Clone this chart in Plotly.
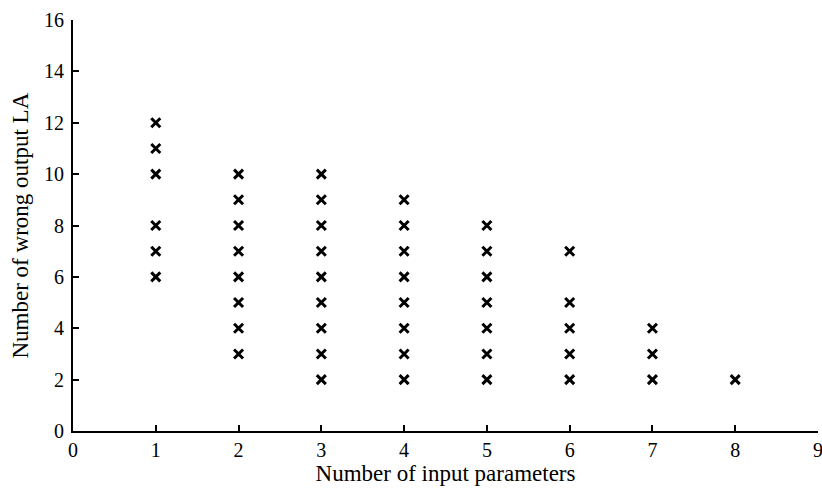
import plotly.graph_objects as go

# data
params_1 = [1, 1, 1, 1, 1, 1]
wrong_1 = [6, 7, 8, 10, 11, 12]
params_2 = [2] * 8
wrong_2 = [3, 4, 5, 6, 7, 8, 9, 10]
params_3 = [3] * 9
wrong_3 = [2, 3, 4, 5, 6, 7, 8, 9, 10]
params_4 = [4] * 8
wrong_4 = [2, 3, 4, 5, 6, 7, 8, 9]
params_5 = [5] * 7
wrong_5 = [2, 3, 4, 5, 6, 7, 8]
params_6 = [6] * 5
wrong_6 = [2, 3, 4, 5, 7]
params_7 = [7] * 3
wrong_7 = [2, 3, 4]
params_8 = [8]
wrong_8 = [2]

xs = params_1 + params_2 + params_3 + params_4 + params_5 + params_6 + params_7 + params_8
ys = wrong_1 + wrong_2 + wrong_3 + wrong_4 + wrong_5 + wrong_6 + wrong_7 + wrong_8

x_ticks = list(range(0, 10))
y_ticks = list(range(0, 17, 2))

font = "Liberation Serif, Times New Roman, serif"

fig = go.Figure()
fig.add_trace(go.Scatter(
    x=xs, y=ys, mode="markers",
    marker=dict(symbol="x-thin", size=9, color="black",
                line=dict(width=3, color="black")),
    showlegend=False,
))

fig.update_layout(
    width=822, height=492,
    margin=dict(l=73, r=4, t=20, b=61),
    paper_bgcolor="white", plot_bgcolor="white",
    font=dict(family=font, size=20, color="black"),
)
fig.update_xaxes(
    range=[0, 9], tickvals=x_ticks, ticktext=[str(v) for v in x_ticks],
    ticks="inside", ticklen=6, tickwidth=2, tickcolor="black",
    showline=True, linecolor="black", linewidth=2,
    showgrid=False, zeroline=False, ticklabeloverflow="allow", automargin=False,
    title=dict(text="Number of input parameters", standoff=2, font=dict(size=23)),
    tickfont=dict(size=20),
)
fig.update_yaxes(
    range=[0, 16], tickvals=y_ticks, ticktext=[str(v) for v in y_ticks],
    ticks="inside", ticklen=6, tickwidth=2, tickcolor="black",
    showline=True, linecolor="black", linewidth=2,
    showgrid=False, zeroline=False, automargin=False, ticklabelstandoff=3,
    tickfont=dict(size=20),
)
fig.add_annotation(
    text="Number of wrong output LA", textangle=-90,
    xref="paper", yref="paper", x=0, y=0.5, xanchor="center", yanchor="middle",
    xshift=-53, showarrow=False, font=dict(size=23),
)

fig.write_html("out.html")
